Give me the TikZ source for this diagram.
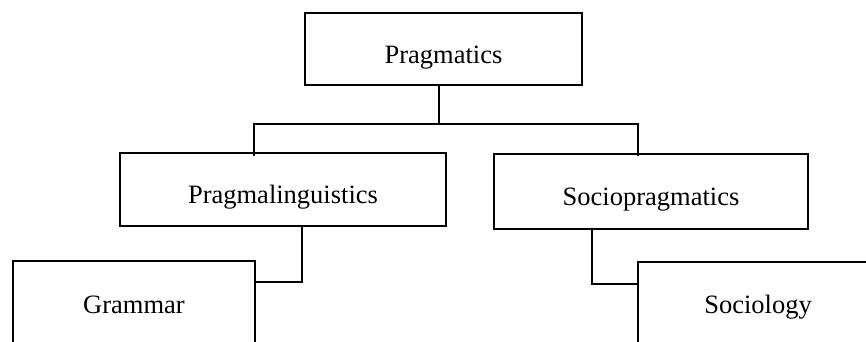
\documentclass[tikz,border=0pt]{standalone}
\usepackage{fontspec}
\setmainfont{Liberation Serif}
\begin{document}
\begin{tikzpicture}[x=1pt,y=-1pt,line join=miter,line cap=rect]
	\tikzset{every node/.style={inner sep=0pt}}
	\tikzset{box/.style={draw,line width=1.8pt,rectangle,text height=28pt,text depth=0pt,font=\fontsize{26.5}{30}\selectfont}}
	\clip (0,0) rectangle (866,341);
	\useasboundingbox (0,0) rectangle (866,341);
	% boxes
	\node[box,minimum width=277pt,minimum height=72pt] (prag) at (443.5,49) {Pragmatics};
	\node[box,minimum width=326pt,minimum height=73pt] (ling) at (283,189.5) {Pragmalinguistics};
	\node[box,minimum width=314pt,minimum height=75pt] (socp) at (651,191.5) {Sociopragmatics};
	\node[box,text height=20pt,minimum width=242pt,minimum height=84pt] (gram) at (134,303) {Grammar};
	\node[box,text height=17pt,minimum width=240pt,minimum height=86pt] (socl) at (758,305) {Sociology};
	% joints
	\coordinate (fork) at (439,124);
	\coordinate (lj) at (254,124);
	\coordinate (rj) at (638,124);
	\coordinate (gj) at (302,282);
	\coordinate (sj) at (592,284);
	% connectors
	\begin{scope}[line width=1.8pt]
		\draw (prag.south -| fork) -- (fork);
		\draw ([yshift=-3pt]ling.north -| lj) -- (lj) -- (rj) -- ([yshift=-2pt]socp.north -| rj);
		\draw (ling.south -| gj) -- (gj) -- (gram.east |- gj);
		\draw (socp.south -| sj) -- (sj) -- (socl.west |- sj);
	\end{scope}
\end{tikzpicture}
\end{document}
